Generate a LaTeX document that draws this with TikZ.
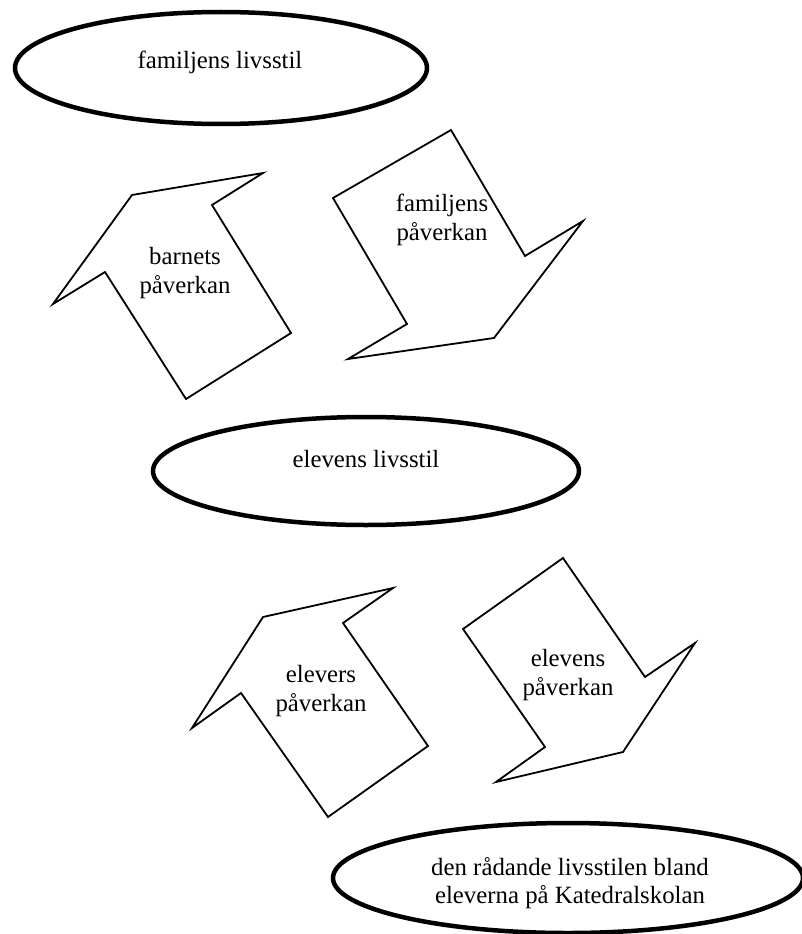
\documentclass[tikz,border=0pt]{standalone}
\usepackage{fontspec}
\setmainfont{Liberation Serif}
\usepackage{tikz}
\tikzset{
	ringline/.style={line width=4.5pt, color=black},
	arrowline/.style={line width=1.8pt, color=black, line join=miter},
	lbl/.style={inner sep=0pt, align=center, font=\fontsize{24.8}{28.5}\selectfont}
}

\begin{document}
\begin{tikzpicture}[x=1pt, y=-1pt]
			%%%%% START %%%%%
			\useasboundingbox (0, 0) rectangle (801, 934);
			
			% ovals
			\draw[ringline] (221, 68) ellipse [x radius=206, y radius=56];
			\node[lbl, anchor=base] (famstil) at (220, 68) {familjens livsstil};
			
			\draw[ringline] (366, 471) ellipse [x radius=213, y radius=54];
			\node[lbl, anchor=base] (elevstil) at (366, 467) {elevens livsstil};
			
			\draw[ringline] (568, 878) ellipse [x radius=235, y radius=55];
			\node[lbl] (skolstil) at (570, 883) {den rådande livsstilen bland\\eleverna på Katedralskolan};
			
			% upper pair
			\draw[arrowline] (53, 304) -- (132, 195) -- (263, 173) -- (212, 205) -- (291, 333) -- (186, 399) -- (105, 272) -- cycle;
			\node[lbl] (barn) at (185, 273) {barnets\\påverkan};
			
			\draw[arrowline] (333, 198) -- (451, 130) -- (525, 256) -- (583, 221) -- (494, 338) -- (348, 359) -- (407, 324) -- cycle;
			\node[lbl] (familj) at (442, 220) {familjens\\påverkan};
			
			% lower pair
			\draw[arrowline] (192, 728) -- (263, 617) -- (393, 588) -- (343, 623) -- (428, 746) -- (328, 817) -- (241, 693) -- cycle;
			\node[lbl] (elevers) at (321, 691) {elevers\\påverkan};
			
			\draw[arrowline] (463, 629) -- (563, 558) -- (645, 677) -- (695, 643) -- (623, 752) -- (496, 782) -- (545, 747) -- cycle;
			\node[lbl] (elevens) at (568, 675) {elevens\\påverkan};
			
			%%%%% END %%%%%
\end{tikzpicture}
\end{document}
